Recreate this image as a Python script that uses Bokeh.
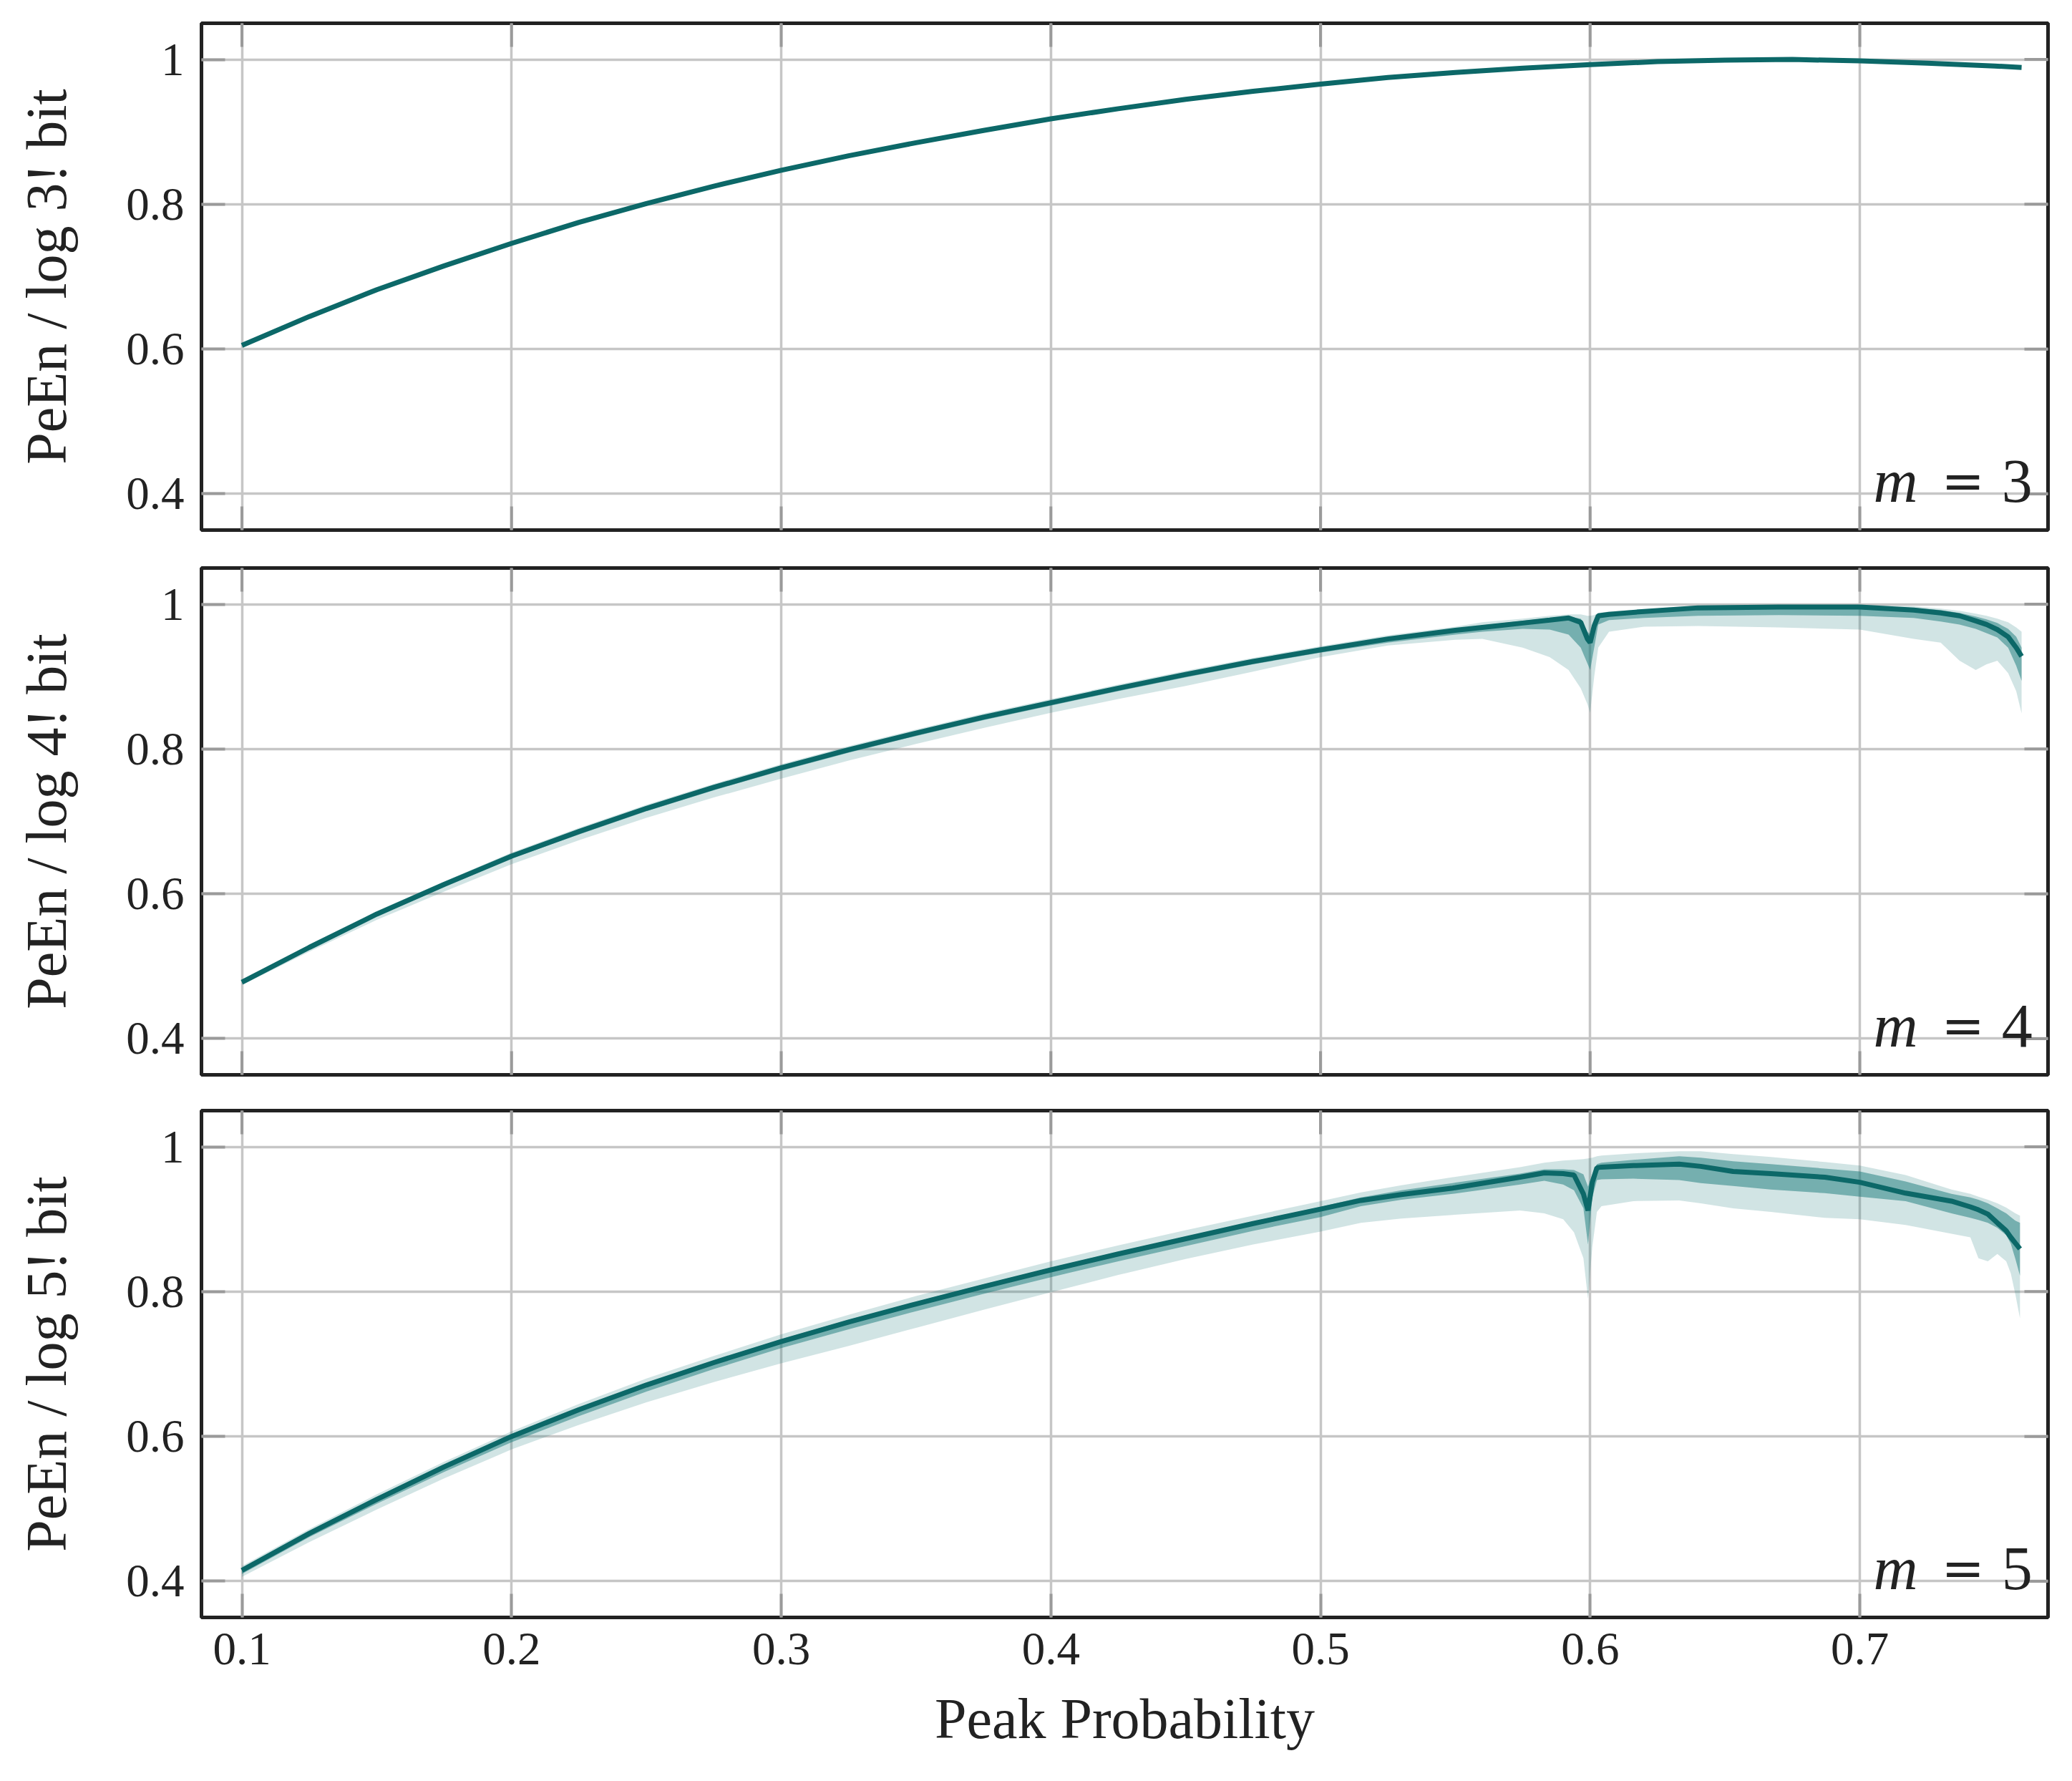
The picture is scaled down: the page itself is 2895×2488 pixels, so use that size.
import math
from bokeh.plotting import figure
from bokeh.models import Range1d, FixedTicker, CustomJSTickFormatter, Label
from bokeh.layouts import column
from bokeh.embed import file_html
from bokeh.resources import INLINE

FONT = "Liberation Serif"
LINE = "#0c6868"
BAND = "#1a7a7a"
TEXT = "#222222"
TICK = "#9a9a9a"

x_ticks = [0.1, 0.2, 0.3, 0.4, 0.5, 0.6, 0.7]
y_ticks = [0.4, 0.6, 0.8, 1.0]
x_title = "Peak Probability"
y_titles = ["PeEn / log 3! bit", "PeEn / log 4! bit", "PeEn / log 5! bit"]
m_values = ["3", "4", "5"]

# ---- m = 3 (median only) ----
x_m3 = [0.100, 0.125, 0.150, 0.175, 0.200, 0.225, 0.250, 0.275, 0.300, 0.325, 0.350, 0.375, 0.400, 0.425,
        0.450, 0.475, 0.500, 0.525, 0.550, 0.575, 0.600, 0.625, 0.650, 0.675, 0.700, 0.725, 0.750, 0.760]
med_m3 = [0.605, 0.645, 0.682, 0.715, 0.746, 0.775, 0.801, 0.825, 0.847, 0.867, 0.885, 0.902, 0.918, 0.932,
          0.945, 0.956, 0.966, 0.975, 0.982, 0.988, 0.993, 0.997, 0.999, 1.000, 0.998, 0.995, 0.991, 0.989]

# ---- m = 4 ----
x_m4 = [0.100, 0.125, 0.150, 0.175, 0.200, 0.225, 0.250, 0.275, 0.300, 0.325, 0.350, 0.375, 0.400, 0.425,
        0.450, 0.475, 0.500, 0.525, 0.550,
        0.560, 0.575, 0.585, 0.592, 0.5965, 0.599, 0.600, 0.6015, 0.603, 0.607, 0.620, 0.640, 0.670,
        0.700, 0.720, 0.730, 0.737, 0.743, 0.747, 0.751, 0.755, 0.758, 0.760]
med_m4 = [0.478, 0.526, 0.572, 0.613, 0.652, 0.686, 0.718, 0.747, 0.774, 0.799, 0.822, 0.844, 0.864, 0.884,
          0.903, 0.921, 0.937, 0.952, 0.964,
          0.968, 0.974, 0.978, 0.981, 0.975, 0.952, 0.947, 0.970, 0.984, 0.986, 0.990, 0.995, 0.996,
          0.996, 0.992, 0.988, 0.984, 0.977, 0.972, 0.965, 0.955, 0.940, 0.928]
inner_lo_m4 = [0.476, 0.524, 0.569, 0.610, 0.649, 0.682, 0.714, 0.743, 0.770, 0.795, 0.818, 0.840, 0.860, 0.880,
               0.899, 0.917, 0.933, 0.947, 0.958,
               0.962, 0.966, 0.965, 0.958, 0.940, 0.918, 0.909, 0.940, 0.972, 0.978, 0.981, 0.984, 0.985,
               0.984, 0.981, 0.976, 0.972, 0.966, 0.960, 0.954, 0.940, 0.915, 0.894]
inner_hi_m4 = [0.480, 0.528, 0.574, 0.615, 0.654, 0.688, 0.720, 0.749, 0.776, 0.801, 0.824, 0.846, 0.866, 0.886,
               0.905, 0.923, 0.939, 0.954, 0.966,
               0.971, 0.977, 0.981, 0.983, 0.980, 0.962, 0.958, 0.975, 0.986, 0.988, 0.992, 0.997, 0.998,
               0.998, 0.995, 0.992, 0.988, 0.983, 0.979, 0.974, 0.966, 0.955, 0.940]
outer_lo_m4 = [0.474, 0.520, 0.564, 0.603, 0.641, 0.674, 0.705, 0.733, 0.759, 0.784, 0.807, 0.829, 0.850, 0.869,
               0.887, 0.907, 0.927, 0.943, 0.951,
               0.952, 0.940, 0.927, 0.909, 0.884, 0.862, 0.850, 0.900, 0.940, 0.962, 0.969, 0.970, 0.968,
               0.965, 0.952, 0.947, 0.922, 0.909, 0.917, 0.922, 0.905, 0.880, 0.849]
outer_hi_m4 = [0.481, 0.530, 0.576, 0.617, 0.657, 0.691, 0.723, 0.752, 0.779, 0.804, 0.827, 0.849, 0.869, 0.889,
               0.908, 0.926, 0.942, 0.957, 0.969,
               0.975, 0.980, 0.984, 0.986, 0.986, 0.984, 0.984, 0.985, 0.988, 0.990, 0.993, 0.998, 0.999,
               0.999, 0.997, 0.994, 0.991, 0.987, 0.984, 0.980, 0.975, 0.968, 0.962]

# ---- m = 5 ----
x_m5 = [0.100, 0.125, 0.150, 0.175, 0.200, 0.225, 0.250, 0.275, 0.300, 0.325, 0.350, 0.375, 0.400, 0.425,
        0.450, 0.475, 0.500, 0.515, 0.530, 0.549,
        0.574, 0.583, 0.590, 0.594, 0.5975, 0.5992, 0.6008, 0.6025, 0.6042, 0.616, 0.633, 0.641, 0.653,
        0.667, 0.687, 0.700, 0.717, 0.734, 0.741, 0.744, 0.7475, 0.751, 0.7543, 0.756, 0.7577, 0.7594]
med_m5 = [0.415, 0.466, 0.513, 0.558, 0.600, 0.637, 0.671, 0.702, 0.731, 0.758, 0.783, 0.807, 0.830, 0.852,
          0.873, 0.894, 0.914, 0.926, 0.934, 0.943,
          0.958, 0.964, 0.963, 0.961, 0.935, 0.912, 0.951, 0.971, 0.972, 0.974, 0.976, 0.973, 0.966,
          0.963, 0.958, 0.951, 0.936, 0.925, 0.917, 0.913, 0.907, 0.895, 0.884, 0.875, 0.867, 0.859]
inner_lo_m5 = [0.410, 0.461, 0.507, 0.551, 0.592, 0.628, 0.662, 0.693, 0.722, 0.748, 0.773, 0.797, 0.820, 0.842,
               0.863, 0.884, 0.903, 0.918, 0.927, 0.935,
               0.948, 0.953, 0.948, 0.940, 0.915, 0.865, 0.930, 0.954, 0.955, 0.956, 0.954, 0.950, 0.946,
               0.941, 0.936, 0.931, 0.925, 0.908, 0.902, 0.899, 0.895, 0.888, 0.878, 0.866, 0.845, 0.822]
inner_hi_m5 = [0.418, 0.469, 0.516, 0.561, 0.603, 0.640, 0.674, 0.705, 0.734, 0.761, 0.786, 0.810, 0.833, 0.855,
               0.876, 0.897, 0.917, 0.930, 0.940, 0.950,
               0.963, 0.969, 0.969, 0.968, 0.962, 0.945, 0.962, 0.976, 0.978, 0.982, 0.987, 0.985, 0.980,
               0.976, 0.970, 0.966, 0.952, 0.935, 0.930, 0.927, 0.922, 0.915, 0.908, 0.903, 0.898, 0.895]
outer_lo_m5 = [0.406, 0.454, 0.499, 0.542, 0.582, 0.616, 0.647, 0.675, 0.701, 0.725, 0.750, 0.775, 0.799, 0.823,
               0.845, 0.865, 0.883, 0.895, 0.901, 0.906,
               0.912, 0.908, 0.900, 0.882, 0.846, 0.790, 0.862, 0.910, 0.918, 0.925, 0.926, 0.922, 0.915,
               0.910, 0.902, 0.900, 0.892, 0.880, 0.875, 0.846, 0.842, 0.852, 0.842, 0.825, 0.796, 0.763]
outer_hi_m5 = [0.421, 0.472, 0.520, 0.565, 0.607, 0.645, 0.680, 0.711, 0.741, 0.768, 0.794, 0.818, 0.842, 0.864,
               0.885, 0.905, 0.925, 0.937, 0.947, 0.958,
               0.972, 0.978, 0.981, 0.982, 0.983, 0.984, 0.985, 0.987, 0.988, 0.991, 0.994, 0.994, 0.990,
               0.986, 0.979, 0.974, 0.961, 0.941, 0.935, 0.931, 0.927, 0.922, 0.916, 0.912, 0.908, 0.905]

X_RANGE = (0.085, 0.7698)
Y_RANGE = (0.35, 1.05)

XFMT = "return tick.toFixed(1);"
YFMT = "return (Math.abs(tick - 1) < 1e-6) ? '1' : tick.toFixed(1);"


def style_axis(ax, ticks, fmt_code, standoff):
    ax.ticker = FixedTicker(ticks=ticks)
    ax.formatter = CustomJSTickFormatter(code=fmt_code)
    ax.major_tick_in = 33
    ax.major_tick_out = 0
    ax.minor_tick_in = 0
    ax.minor_tick_out = 0
    ax.major_tick_line_color = TICK
    ax.major_tick_line_width = 4
    ax.axis_line_color = None
    ax.major_label_text_font = FONT
    ax.major_label_text_color = TEXT
    ax.major_label_text_font_size = "65px"
    ax.major_label_standoff = standoff
    ax.axis_label_text_font = FONT
    ax.axis_label_text_font_size = "80px"
    ax.axis_label_text_font_style = "normal"
    ax.axis_label_text_color = TEXT


def make_panel(idx, x, med, bands, top, bottom, show_x):
    p = figure(frame_width=2580, frame_height=708,
               min_border_left=281, min_border_right=12,
               min_border_top=top, min_border_bottom=bottom,
               x_range=Range1d(*X_RANGE), y_range=Range1d(*Y_RANGE),
               output_backend="svg", toolbar_location=None,
               background_fill_color="white", border_fill_color="white",
               outline_line_color=TEXT, outline_line_width=5)
    p.xgrid.ticker = FixedTicker(ticks=x_ticks)
    p.ygrid.ticker = FixedTicker(ticks=y_ticks)
    for g in (p.xgrid, p.ygrid):
        g.grid_line_color = "#c6c6c6"
        g.grid_line_width = 3.5

    yax = p.yaxis[0]
    style_axis(yax, y_ticks, YFMT, 24)
    yax.axis_label = y_titles[idx]
    yax.axis_label_standoff = 64

    if show_x:
        xax = p.xaxis[0]
        style_axis(xax, x_ticks, XFMT, 22)
        xax.axis_label = x_title
        xax.axis_label_standoff = 29
    else:
        p.xaxis.visible = False

    # data
    if bands is not None:
        olo, ohi, ilo, ihi = bands
        p.varea(x=x, y1=olo, y2=ohi, fill_color=BAND, fill_alpha=0.2)
        p.varea(x=x, y1=ilo, y2=ihi, fill_color=BAND, fill_alpha=0.5)
    p.line(x=x, y=med, line_color=LINE, line_width=7)

    # inward tick marks on the unlabeled sides (half of each dash is clipped by the frame)
    p.scatter(x=x_ticks, y=[Y_RANGE[1]] * len(x_ticks), marker="dash", size=66,
              angle=math.pi / 2, line_color=TICK, line_width=4)
    p.scatter(x=[X_RANGE[1]] * len(y_ticks), y=y_ticks, marker="dash", size=66,
              line_color=TICK, line_width=4)
    if not show_x:
        p.scatter(x=x_ticks, y=[Y_RANGE[0]] * len(x_ticks), marker="dash", size=66,
                  angle=math.pi / 2, line_color=TICK, line_width=4)

    # annotation  m = k
    common = dict(x=0.764, y=0.4175, text_color=TEXT, text_baseline="alphabetic")
    p.add_layout(Label(text=m_values[idx], text_align="right", text_font=FONT,
                       text_font_size="86px", **common))
    p.add_layout(Label(text="=", text_align="center", x_offset=-97, text_font="DejaVu Serif",
                       text_font_size="72px", **common))
    p.add_layout(Label(text="m", text_align="right", x_offset=-160, text_font=FONT,
                       text_font_size="86px", text_font_style="italic", **common))
    return p


p1 = make_panel(0, x_m3, med_m3, None, 32, 26, False)
p2 = make_panel(1, x_m4, med_m4, (outer_lo_m4, outer_hi_m4, inner_lo_m4, inner_hi_m4), 27, 25, False)
p3 = make_panel(2, x_m5, med_m5, (outer_lo_m5, outer_hi_m5, inner_lo_m5, inner_hi_m5), 25, 212, True)

layout = column(p1, p2, p3, spacing=0)
open("out.html", "w").write(file_html(layout, INLINE))
